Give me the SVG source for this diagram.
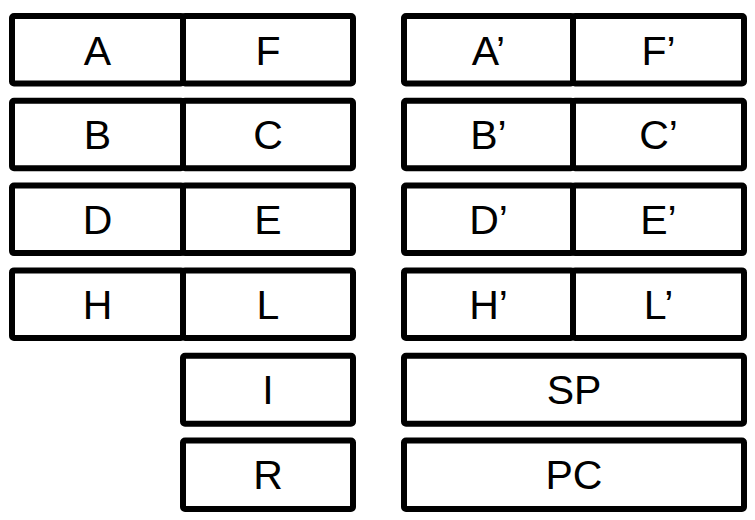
<svg xmlns="http://www.w3.org/2000/svg" width="755" height="520" viewBox="0 0 755 520">
<style>
.b{fill:#fff;stroke:#000;stroke-width:6;stroke-linejoin:round}
.t{font-family:"Liberation Sans",Arial,sans-serif;font-size:41px;fill:#000;text-anchor:middle}
</style>
<rect width="755" height="520" fill="#fff"/>
<g id="A"><rect class="b" x="12" y="16" width="171" height="67.5" rx="2"/><text class="t" x="97.5" y="64.5">A</text></g>
<g id="F"><rect class="b" x="183" y="16" width="170" height="67.5" rx="2"/><text class="t" x="268" y="64.5">F</text></g>
<g id="B"><rect class="b" x="12" y="100.8" width="171" height="67.5" rx="2"/><text class="t" x="97.5" y="149.3">B</text></g>
<g id="C"><rect class="b" x="183" y="100.8" width="170" height="67.5" rx="2"/><text class="t" x="268" y="149.3">C</text></g>
<g id="D"><rect class="b" x="12" y="185.6" width="171" height="67.5" rx="2"/><text class="t" x="97.5" y="234.1">D</text></g>
<g id="E"><rect class="b" x="183" y="185.6" width="170" height="67.5" rx="2"/><text class="t" x="268" y="234.1">E</text></g>
<g id="H"><rect class="b" x="12" y="270.4" width="171" height="67.5" rx="2"/><text class="t" x="97.5" y="318.9">H</text></g>
<g id="L"><rect class="b" x="183" y="270.4" width="170" height="67.5" rx="2"/><text class="t" x="268" y="318.9">L</text></g>
<g id="I"><rect class="b" x="183" y="355.7" width="170" height="68" rx="2"/><text class="t" x="268" y="404.3">I</text></g>
<g id="R"><rect class="b" x="183" y="440.5" width="170" height="68.5" rx="2"/><text class="t" x="268" y="489.3">R</text></g>
<g id="A2"><rect class="b" x="404" y="16" width="169" height="67.5" rx="2"/><text class="t" x="488.5" y="64.5">A’</text></g>
<g id="F2"><rect class="b" x="573" y="16" width="171" height="67.5" rx="2"/><text class="t" x="658.5" y="64.5">F’</text></g>
<g id="B2"><rect class="b" x="404" y="100.8" width="169" height="67.5" rx="2"/><text class="t" x="488.5" y="149.3">B’</text></g>
<g id="C2"><rect class="b" x="573" y="100.8" width="171" height="67.5" rx="2"/><text class="t" x="658.5" y="149.3">C’</text></g>
<g id="D2"><rect class="b" x="404" y="185.6" width="169" height="67.5" rx="2"/><text class="t" x="488.5" y="234.1">D’</text></g>
<g id="E2"><rect class="b" x="573" y="185.6" width="171" height="67.5" rx="2"/><text class="t" x="658.5" y="234.1">E’</text></g>
<g id="H2"><rect class="b" x="404" y="270.4" width="169" height="67.5" rx="2"/><text class="t" x="488.5" y="318.9">H’</text></g>
<g id="L2"><rect class="b" x="573" y="270.4" width="171" height="67.5" rx="2"/><text class="t" x="658.5" y="318.9">L’</text></g>
<g id="SP"><rect class="b" x="404" y="355.7" width="340" height="68" rx="2"/><text class="t" x="574" y="404.3">SP</text></g>
<g id="PC"><rect class="b" x="404" y="440.5" width="340" height="68.5" rx="2"/><text class="t" x="574" y="489.3">PC</text></g>
<g id="connectors"></g>
</svg>
